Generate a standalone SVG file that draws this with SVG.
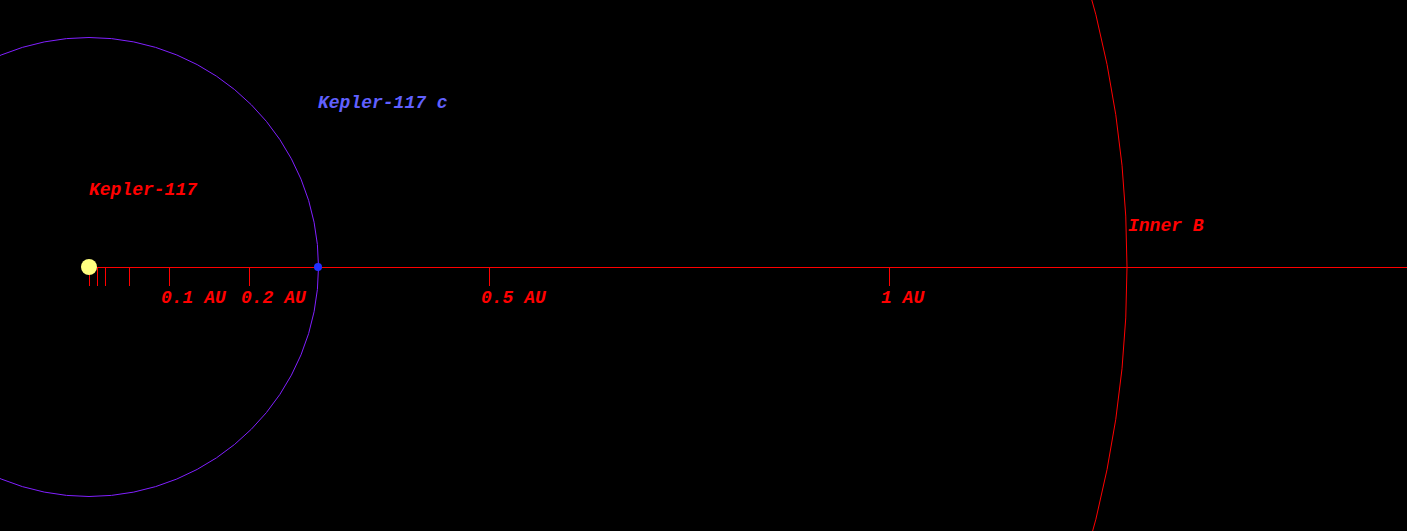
<svg xmlns="http://www.w3.org/2000/svg" width="1407" height="531" viewBox="0 0 1407 531">
<style>
.lbl{font-family:"Liberation Mono","Courier New",monospace;font-size:18px;font-weight:bold;font-style:italic;fill:#ff0000}
.tick{stroke:#ff0000;stroke-width:1}
</style>
<rect width="1407" height="531" fill="#000"/>
<g id="connectors">
<line class="tick" x1="89" y1="267.5" x2="1407" y2="267.5"/>
<line class="tick" x1="89.5" y1="267" x2="89.5" y2="286"/>
<line class="tick" x1="97.5" y1="267" x2="97.5" y2="286"/>
<line class="tick" x1="105.5" y1="267" x2="105.5" y2="286"/>
<line class="tick" x1="129.5" y1="267" x2="129.5" y2="286"/>
<line class="tick" x1="169.5" y1="267" x2="169.5" y2="286"/>
<line class="tick" x1="249.5" y1="267" x2="249.5" y2="286"/>
<line class="tick" x1="489.5" y1="267" x2="489.5" y2="286"/>
<line class="tick" x1="889.5" y1="267" x2="889.5" y2="286"/>
</g>
<g id="scale-labels">
<text class="lbl" x="161" y="303">0.1 AU</text>
<text class="lbl" x="241" y="303">0.2 AU</text>
<text class="lbl" x="481" y="303">0.5 AU</text>
<text class="lbl" x="881" y="303">1 AU</text>
</g>
<g id="inner-b">
<circle cx="89" cy="267" r="1038" fill="none" stroke="#ff0000" stroke-width="1"/>
<text class="lbl" x="1128" y="231">Inner B</text>
</g>
<g id="orbit-c">
<circle cx="89" cy="267" r="229.5" fill="none" stroke="#8020ff" stroke-width="1"/>
</g>
<g id="star">
<circle cx="89" cy="267" r="8" fill="#ffff80"/>
<text class="lbl" x="89" y="195">Kepler-117</text>
</g>
<g id="planet-c">
<circle cx="318" cy="267" r="4" fill="#2030ff"/>
<text class="lbl" x="318" y="108" style="fill:#6060ff">Kepler-117 c</text>
</g>
</svg>
